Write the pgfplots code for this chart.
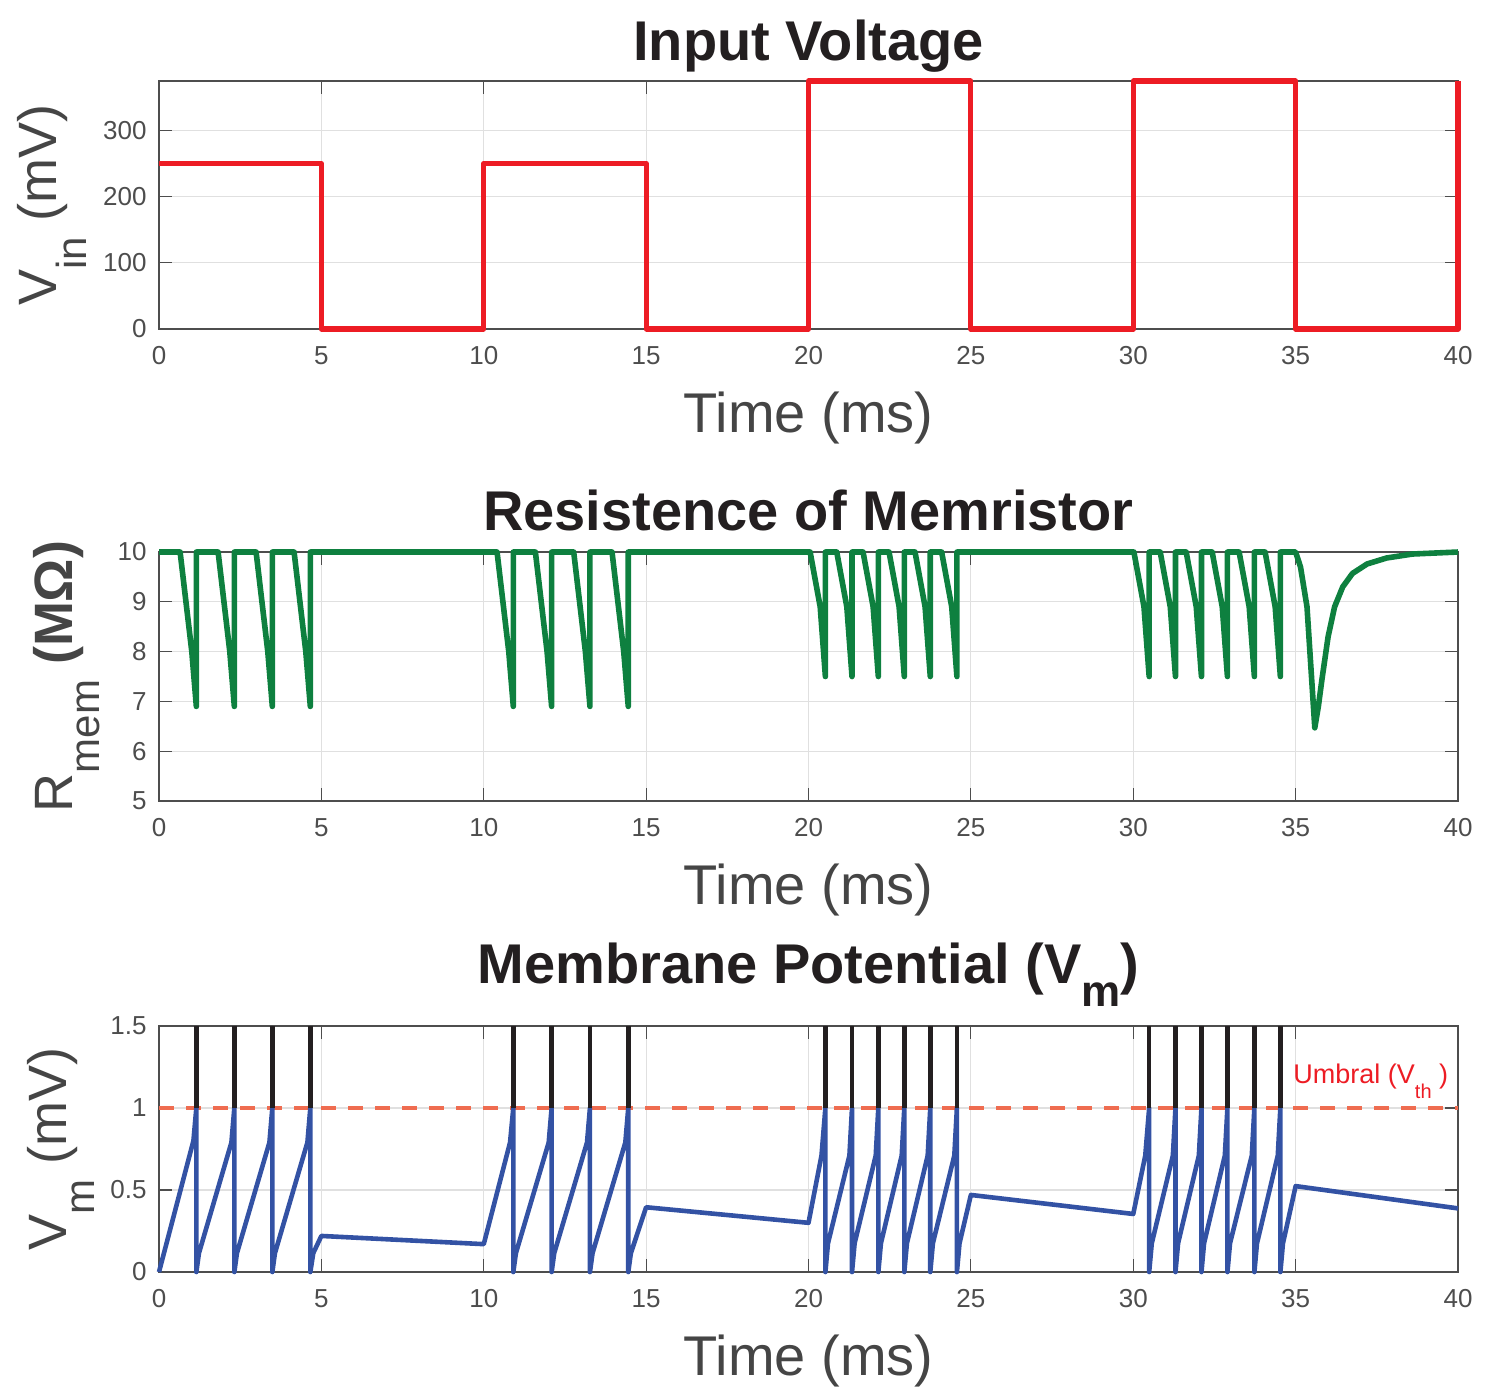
\documentclass[border=0pt]{standalone}
\usepackage{pgfplots}
\pgfplotsset{compat=1.18}
\usepackage{fontspec}
\setmainfont{Liberation Sans}
\definecolor{vinred}{HTML}{ED1C24}
\definecolor{memgreen}{HTML}{0E803F}
\definecolor{vmblue}{HTML}{3352A4}
\definecolor{spikeblack}{HTML}{231F20}
\definecolor{thrcoral}{HTML}{EF6C50}
\definecolor{axgray}{HTML}{4D4D4D}
\definecolor{labgray}{HTML}{454545}
\definecolor{gridgray}{HTML}{E0E0E0}
\definecolor{titleblack}{HTML}{231F20}
\pgfplotsset{
  every axis title shift=0pt,
  mystyle/.style={
    scale only axis,
    width=649.5pt,
    xmin=0, xmax=40,
    xtick={0,5,...,40},
    clip=false,
    axis line style={axgray, line width=0.6pt},
    tick style={axgray, line width=0.6pt},
    tick align=inside,
    major tick length=6.5pt,
    xtick pos=both, ytick pos=both,
    grid=major,
    major grid style={gridgray, line width=0.6pt},
    /pgf/number format/assume math mode=true,
    ticklabel style={font=\fontsize{13}{13}\selectfont, text=axgray, inner sep=0pt},
    xticklabel style={anchor=north, yshift=-8.5pt},
    yticklabel style={anchor=east, xshift=-6pt},
    title style={at={(axis description cs:0.5,1)}, anchor=base, font=\fontsize{28}{28}\selectfont\bfseries, text=titleblack, inner sep=0pt},
    xlabel style={at={(axis description cs:0.5,0)}, anchor=base, yshift=-51.5pt, font=\fontsize{28}{28}\selectfont, text=labgray, inner sep=0pt},
    ylabel style={anchor=south, font=\fontsize{27}{27}\selectfont, text=labgray, inner sep=0pt},
    xlabel={Time (ms)},
  }
}
\begin{document}
\begin{tikzpicture}
\path[use as bounding box] (0,0) rectangle (749pt,-699.5pt);
% ---------- Input voltage ----------
\begin{axis}[mystyle,
  at={(79.5pt,-164.5pt)}, anchor=south west,
  height=124pt,
  ymin=0, ymax=375, ytick={0,100,200,300},
  title={Input Voltage},
  title style={yshift=10.5pt},
  ylabel={V\raisebox{-15pt}{\fontsize{21}{21}\selectfont in} (mV)},
  ylabel style={at={(axis description cs:-0.0554,0.5)}},
]
\addplot[vinred, line width=2.6pt, line join=round] coordinates {
(0,250)(5,250)(5,0)(10,0)(10,250)(15,250)(15,0)(20,0)(20,375)(25,375)(25,0)(30,0)(30,375)(35,375)(35,0)(40,0)(40,375)
};
\end{axis}
% ---------- Memristor ----------
\begin{axis}[mystyle,
  at={(79.5pt,-400.5pt)}, anchor=south west,
  height=124.5pt,
  ymin=5, ymax=10, ytick={5,6,7,8,9,10},
  title={Resistence of Memristor},
  title style={yshift=11pt},
  ylabel={R\raisebox{-13.5pt}{\fontsize{21}{21}\selectfont mem} {\bfseries(MΩ)}},
  ylabel style={at={(axis description cs:-0.0454,0.5)}},
]
\addplot[memgreen, line width=2.8pt, line join=round] coordinates {
(0,10)
(0.65,10)(1.01,8.0)(1.15,6.9)(1.15,10)
(1.82,10)(2.18,8.0)(2.32,6.9)(2.32,10)
(2.99,10)(3.35,8.0)(3.49,6.9)(3.49,10)
(4.16,10)(4.52,8.0)(4.66,6.9)(4.66,10)
(10.41,10)(10.77,8.0)(10.91,6.9)(10.91,10)
(11.59,10)(11.95,8.0)(12.09,6.9)(12.09,10)
(12.77,10)(13.13,8.0)(13.27,6.9)(13.27,10)
(13.95,10)(14.31,8.0)(14.45,6.9)(14.45,10)
(20.05,10)(20.36,8.9)(20.52,7.5)(20.52,10)
(20.87,10)(21.18,8.9)(21.34,7.5)(21.34,10)
(21.68,10)(21.99,8.9)(22.15,7.5)(22.15,10)
(22.48,10)(22.79,8.9)(22.95,7.5)(22.95,10)
(23.28,10)(23.59,8.9)(23.75,7.5)(23.75,10)
(24.10,10)(24.41,8.9)(24.57,7.5)(24.57,10)
(30.02,10)(30.33,8.9)(30.49,7.5)(30.49,10)
(30.83,10)(31.14,8.9)(31.30,7.5)(31.30,10)
(31.63,10)(31.94,8.9)(32.10,7.5)(32.10,10)
(32.43,10)(32.74,8.9)(32.90,7.5)(32.90,10)
(33.26,10)(33.57,8.9)(33.73,7.5)(33.73,10)
(34.06,10)(34.37,8.9)(34.53,7.5)(34.53,10)
(35.0,10)(35.15,9.7)(35.35,8.9)(35.59,6.47)(35.7,6.9)(35.81,7.44)(36.0,8.3)(36.2,8.9)(36.45,9.3)(36.75,9.57)(37.2,9.76)(37.8,9.88)(38.6,9.96)(40,10)
};
\end{axis}
% ---------- Membrane potential ----------
\begin{axis}[mystyle,
  at={(79.5pt,-636pt)}, anchor=south west,
  height=123pt,
  ymin=0, ymax=1.5, ytick={0,0.5,1,1.5},
  title={Membrane Potential (V\raisebox{-11.5pt}{\fontsize{22}{22}\selectfont m})},
  title style={yshift=21.5pt},
  ylabel={V\raisebox{-14pt}{\fontsize{21}{21}\selectfont m} (mV)},
  ylabel style={at={(axis description cs:-0.0493,0.5)}},
  unbounded coords=jump,
]
\addplot[thrcoral, line width=2pt, dash pattern=on 7.5pt off 6pt] coordinates {(0,1)(40,1)};
\addplot[vmblue, line width=2.3pt, line join=round] coordinates {
(0,0)(1.06,0.8)(1.15,1)(1.15,0)
(1.23,0.115)(2.23,0.79)(2.32,1)(2.32,0)
(2.40,0.115)(3.40,0.79)(3.49,1)(3.49,0)
(3.57,0.115)(4.57,0.79)(4.66,1)(4.66,0)
(4.75,0.115)(5.0,0.22)(10.0,0.17)(10.81,0.79)(10.91,1)(10.91,0)
(10.99,0.115)(12.0,0.79)(12.09,1)(12.09,0)
(12.17,0.115)(13.18,0.79)(13.27,1)(13.27,0)
(13.35,0.115)(14.36,0.79)(14.45,1)(14.45,0)
(14.53,0.115)(15.0,0.395)(20.0,0.30)(20.40,0.71)(20.52,1)(20.52,0)
(20.60,0.175)(21.26,0.71)(21.34,1)(21.34,0)
(21.42,0.175)(22.07,0.71)(22.15,1)(22.15,0)
(22.23,0.175)(22.87,0.71)(22.95,1)(22.95,0)
(23.03,0.175)(23.67,0.71)(23.75,1)(23.75,0)
(23.83,0.175)(24.49,0.71)(24.57,1)(24.57,0)
(24.65,0.175)(25.0,0.47)(30.0,0.354)(30.37,0.71)(30.49,1)(30.49,0)
(30.57,0.175)(31.22,0.71)(31.30,1)(31.30,0)
(31.38,0.175)(32.02,0.71)(32.10,1)(32.10,0)
(32.18,0.175)(32.82,0.71)(32.90,1)(32.90,0)
(32.98,0.175)(33.65,0.71)(33.73,1)(33.73,0)
(33.81,0.175)(34.45,0.71)(34.53,1)(34.53,0)
(34.61,0.175)(35.0,0.524)(40,0.388)
};
\addplot[spikeblack, line width=2.3pt] coordinates {
(1.15,1)(1.15,1.5)(1.15,nan)
(2.32,1)(2.32,1.5)(2.32,nan)
(3.49,1)(3.49,1.5)(3.49,nan)
(4.66,1)(4.66,1.5)(4.66,nan)
(10.91,1)(10.91,1.5)(10.91,nan)
(12.09,1)(12.09,1.5)(12.09,nan)
(13.27,1)(13.27,1.5)(13.27,nan)
(14.45,1)(14.45,1.5)(14.45,nan)
(20.52,1)(20.52,1.5)(20.52,nan)
(21.34,1)(21.34,1.5)(21.34,nan)
(22.15,1)(22.15,1.5)(22.15,nan)
(22.95,1)(22.95,1.5)(22.95,nan)
(23.75,1)(23.75,1.5)(23.75,nan)
(24.57,1)(24.57,1.5)(24.57,nan)
(30.49,1)(30.49,1.5)(30.49,nan)
(31.30,1)(31.30,1.5)(31.30,nan)
(32.10,1)(32.10,1.5)(32.10,nan)
(32.90,1)(32.90,1.5)(32.90,nan)
(33.73,1)(33.73,1.5)(33.73,nan)
(34.53,1)(34.53,1.5)
};
\node[anchor=base west, inner sep=0pt, text=vinred, font=\fontsize{13.5}{13.5}\selectfont]
  at (axis cs:34.92,1.152) {Umbral (V\raisebox{-7.5pt}{\fontsize{10}{10}\selectfont th} )};
\end{axis}
\end{tikzpicture}
\end{document}
